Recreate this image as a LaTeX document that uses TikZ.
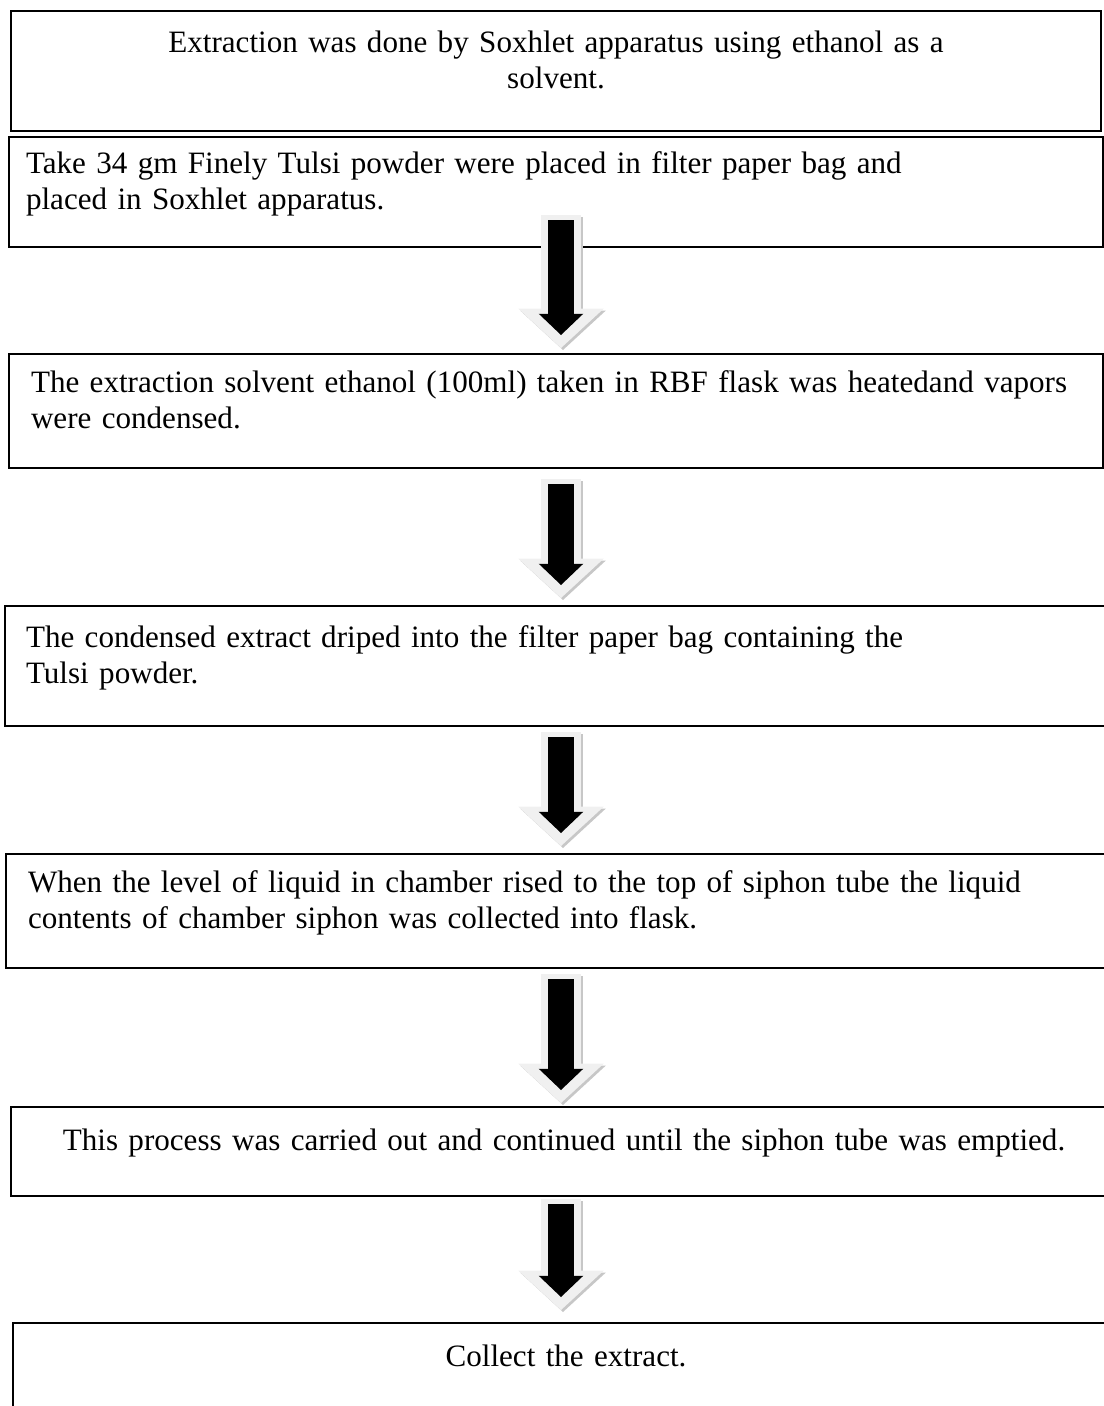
\documentclass[tikz,border=0pt]{standalone}
\usepackage{fontspec}
\setmainfont{Liberation Serif}
\usetikzlibrary{positioning,calc,arrows.meta}
\def\pxu{0.386pt}
\tikzset{
  stepbox/.style={draw,line width=0.8pt,rectangle,anchor=north west,inner xsep=0pt,inner ysep=0pt,
    font=\fontsize{12}{13.6}\selectfont,
    execute at begin node={\hyphenpenalty=10000\relax\strut},execute at end node={\rule[-10pt]{0pt}{0pt}}},
  arrowshadow/.style={draw=black!22,line width=15.6pt,-{Triangle[width=33pt,length=15.2pt,line width=0pt]}},
  arrowhalo/.style={draw=black!6,line width=15.6pt,-{Triangle[width=33pt,length=15.2pt,line width=0pt]}},
  arrowbody/.style={draw=black,line width=9.7pt,-{Triangle[width=17.2pt,length=8.2pt,line width=0pt]}}
}
\begin{document}
\begin{tikzpicture}[x=\pxu,y=-\pxu]
\useasboundingbox (0,0) rectangle (1103,1406);
   \node[stepbox,align=center,text width=1090*\pxu,minimum height=120*\pxu] (s_1) at (10,10)
     {Extraction was done by Soxhlet apparatus using ethanol as a\\ solvent.};
   \node[stepbox,align=left,inner xsep=17*\pxu,text width=1060*\pxu,minimum height=110*\pxu] (s_2) at (8,136)
     {Take 34 gm Finely Tulsi powder were placed in filter paper bag and\\ placed in Soxhlet apparatus.};
   \node[stepbox,align=left,inner xsep=22*\pxu,text width=1050*\pxu,minimum height=114*\pxu] (s_3) at (8,353)
     {The extraction solvent ethanol (100ml) taken in RBF flask was heatedand vapors\\ were condensed.};
   \node[stepbox,align=left,inner xsep=21*\pxu,text width=1068*\pxu,minimum height=120*\pxu] (s_4) at (4,605)
     {The condensed extract driped into the filter paper bag containing the\\ Tulsi powder.};
   \node[stepbox,align=left,inner xsep=22*\pxu,text width=1066*\pxu,minimum height=114*\pxu] (s_5) at (5,853)
     {When the level of liquid in chamber rised to the top of siphon tube the liquid\\ contents of chamber siphon was collected into flask.};
   \node[stepbox,align=center,text width=1106*\pxu,minimum height=89*\pxu] (s_6) at (10,1106)
     {This process was carried out and continued until the siphon tube was emptied.};
   \node[stepbox,align=center,text width=1106*\pxu,minimum height=88*\pxu] (s_7) at (12,1322)
     {Collect the extract.};
   \coordinate (ax) at (561,0);
   % block arrows between the steps
   \foreach \f/\n/\ys/\ye in {2/3/-28/-18,3/4/15/-20,4/5/10/-20,5/6/10/-16,6/7/7/-25}
   {
     \draw[arrowshadow] ($(s_\f.south -| ax)+(2,\ys-3)$) -- ($(s_\n.north -| ax)+(2,\ye+15)$);
     \draw[arrowhalo] ($(s_\f.south -| ax)+(0,\ys-5)$) -- ($(s_\n.north -| ax)+(0,\ye+13)$);
     \draw[arrowbody] ($(s_\f.south -| ax)+(0,\ys)$) -- ($(s_\n.north -| ax)+(0,\ye)$);
   }
\end{tikzpicture}
\end{document}
